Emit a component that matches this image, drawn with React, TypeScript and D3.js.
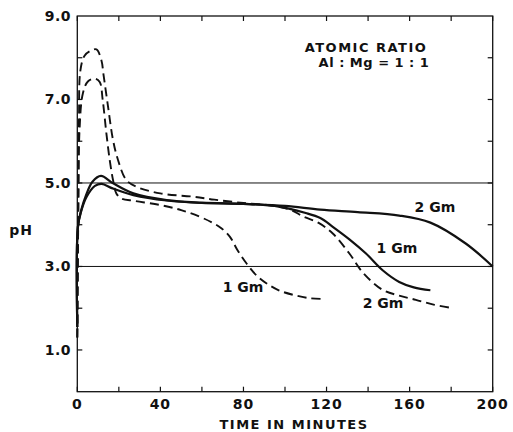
import React from "react";
import * as d3 from "d3";

const xTicks = [0, 20, 40, 60, 80, 100, 120, 140, 160, 180, 200];
const xTickLabels = [0, 40, 80, 120, 160, 200];
const yTicks = [1, 2, 3, 4, 5, 6, 7, 8];
const yTickLabels = [1, 3, 5, 7, 9];
const refLines = [5, 3];

// solid curves
const solid2Gm: [number, number][] = [
  [0, 1.55], [0.3, 3.95], [1.9, 4.35], [4.3, 4.72], [7.3, 5.03], [11.4, 5.17], [17, 5.0],
  [27, 4.75], [43, 4.59], [60, 4.53], [80, 4.5], [100, 4.45], [117, 4.36], [135, 4.3],
  [155, 4.22], [170, 4.05], [187, 3.55], [200, 3.0],
];
const solid1Gm: [number, number][] = [
  [0, 1.55], [0.3, 3.95], [1.9, 4.33], [4.5, 4.67], [8.5, 4.93], [11.7, 4.98], [17, 4.87],
  [27, 4.71], [43, 4.58], [60, 4.52], [80, 4.5], [95, 4.45], [110, 4.28], [117, 4.16],
  [123, 3.95], [131, 3.65], [139, 3.31], [147, 2.91], [155, 2.63], [162, 2.5], [170, 2.43],
];
// dashed curves
const dashed2Gm: [number, number][] = [
  [0, 1.3], [0.4, 4.3], [0.8, 6.5], [1.5, 7.7], [3.5, 8.05], [6.5, 8.17], [9.2, 8.2],
  [11.6, 7.94], [12.6, 7.6], [14.8, 6.83], [17.2, 6.03], [19.6, 5.55], [23.6, 5.07],
  [28.4, 4.91], [40, 4.75], [56, 4.67], [66, 4.6], [80, 4.52], [95, 4.45], [103, 4.35],
  [109, 4.19], [116, 4.05], [123, 3.79], [131, 3.31], [137.7, 2.84], [147, 2.44],
  [155, 2.3], [163, 2.2], [172, 2.08], [181, 2.0],
];
const dashed1Gm: [number, number][] = [
  [0, 1.3], [0.5, 4.3], [1.1, 6.3], [2.7, 7.15], [5.1, 7.43], [8.5, 7.5], [10.8, 7.42],
  [12.2, 7.0], [14, 6.19], [15.6, 5.55], [17.2, 5.07], [18.8, 4.75], [21.2, 4.63],
  [27.6, 4.57], [40, 4.47], [50, 4.35], [59, 4.19], [65, 4.05], [69, 3.93], [73.5, 3.71],
  [77, 3.4], [81.5, 3.07], [86, 2.8], [91, 2.6], [97, 2.43], [104, 2.32], [112, 2.24], [119, 2.22],
];

const curveLabels = [
  { text: "2 Gm", t: 172.2, ph: 4.3 },
  { text: "1 Gm", t: 153.9, ph: 3.32 },
  { text: "1 Gm", t: 79.8, ph: 2.39 },
  { text: "2 Gm", t: 147.2, ph: 2.0 },
];

const W = 513;
const H = 432;
const FONT = "'DejaVu Sans', sans-serif";

export default function App() {
  const x = d3.scaleLinear().domain([0, 200]).range([77.3, 492.7]);
  const y = d3.scaleLinear().domain([0, 9]).range([391.7, 16]);
  const line = d3
    .line<[number, number]>()
    .x((d) => x(d[0]))
    .y((d) => y(d[1]))
    .curve(d3.curveCatmullRom.alpha(0.5));

  const x0 = x(0), x1 = x(200), y0 = y(0), y1 = y(9);
  const tickLen = 5;

  return (
    <svg width={W} height={H} style={{ position: "absolute", left: 0, top: 0, background: "#fff" }}>
      <rect x={0} y={0} width={W} height={H} fill="#fff" />
      {/* reference lines */}
      {refLines.map((v) => (
        <line key={v} x1={x0} x2={x1} y1={y(v)} y2={y(v)} stroke="#111" strokeWidth={1} />
      ))}
      {/* frame */}
      <rect x={x0} y={y1} width={x1 - x0} height={y0 - y1} fill="none" stroke="#111" strokeWidth={1.3} />
      {/* x ticks top and bottom */}
      {xTicks.map((t) => (
        <g key={"xt" + t}>
          <line x1={x(t)} x2={x(t)} y1={y0} y2={y0 - tickLen} stroke="#111" strokeWidth={1.2} />
          <line x1={x(t)} x2={x(t)} y1={y1} y2={y1 + tickLen} stroke="#111" strokeWidth={1.2} />
        </g>
      ))}
      {/* y ticks left and right */}
      {yTicks.map((t) => (
        <g key={"yt" + t}>
          <line x1={x0} x2={x0 + tickLen} y1={y(t)} y2={y(t)} stroke="#111" strokeWidth={1.2} />
          <line x1={x1} x2={x1 - tickLen} y1={y(t)} y2={y(t)} stroke="#111" strokeWidth={1.2} />
        </g>
      ))}
      {/* tick labels */}
      {xTickLabels.map((t) => (
        <text key={"xl" + t} x={x(t)} y={409} textAnchor="middle" fontFamily={FONT} fontSize={14}
          fontWeight="bold" letterSpacing={1} fill="#111">{t}</text>
      ))}
      {yTickLabels.map((t) => (
        <text key={"yl" + t} x={71} y={y(t) + 5} textAnchor="end" fontFamily={FONT} fontSize={14}
          fontWeight="bold" letterSpacing={0.5} fill="#111">{t.toFixed(1)}</text>
      ))}
      {/* curves */}
      <path d={line(solid2Gm) || ""} fill="none" stroke="#111" strokeWidth={2.2} />
      <path d={line(solid1Gm) || ""} fill="none" stroke="#111" strokeWidth={2.2} />
      <path d={line(dashed2Gm) || ""} fill="none" stroke="#111" strokeWidth={1.9} strokeDasharray="9 5" />
      <path d={line(dashed1Gm) || ""} fill="none" stroke="#111" strokeWidth={1.9} strokeDasharray="9 5" />
      {/* curve labels */}
      {curveLabels.map((l, i) => (
        <text key={"cl" + i} x={x(l.t)} y={y(l.ph)} textAnchor="middle" fontFamily={FONT} fontSize={14}
          fontWeight="bold" fill="#111">{l.text}</text>
      ))}
      {/* annotation */}
      <text x={366} y={52} textAnchor="middle" fontFamily={FONT} fontSize={13} fontWeight="bold"
        letterSpacing={1.5} fill="#111">ATOMIC RATIO</text>
      <text x={374} y={67} textAnchor="middle" fontFamily={FONT} fontSize={13} fontWeight="bold"
        letterSpacing={0.5} fill="#111">Al : Mg = 1 : 1</text>
      {/* axis titles */}
      <text x={21} y={235} textAnchor="middle" fontFamily={FONT} fontSize={14} fontWeight="bold"
        letterSpacing={1} fill="#111">pH</text>
      <text x={294} y={429} textAnchor="middle" fontFamily={FONT} fontSize={13} fontWeight="bold"
        letterSpacing={1.5} fill="#111">TIME IN MINUTES</text>
    </svg>
  );
}
